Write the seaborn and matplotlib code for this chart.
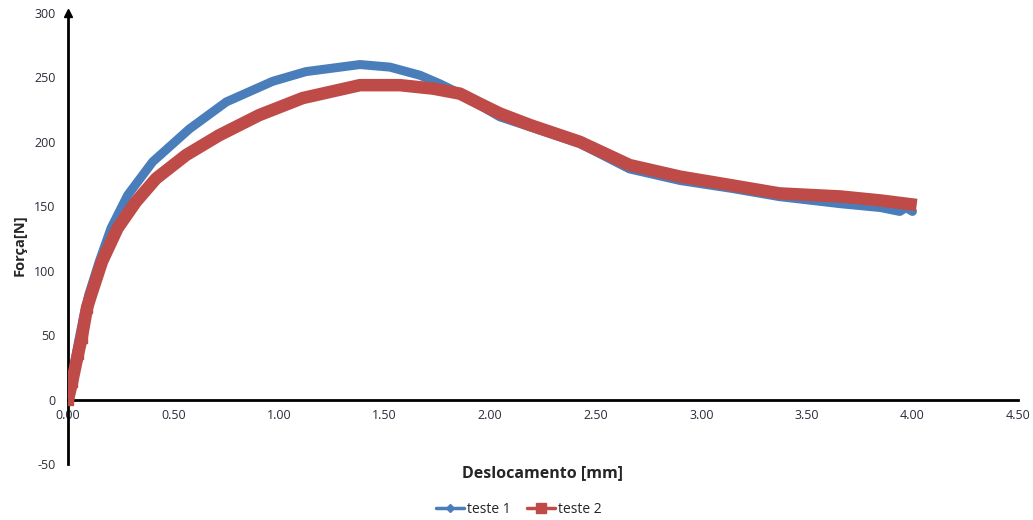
import numpy as np
import pandas as pd
import matplotlib
matplotlib.use("Agg")
import matplotlib.pyplot as plt
from matplotlib.lines import Line2D
from matplotlib.ticker import FormatStrFormatter
import seaborn as sns

sns.set_style("white")
plt.rcParams['font.family'] = ['Open Sans', 'DejaVu Sans']
plt.rcParams['axes.unicode_minus'] = False

# values
x_teste1 = [0, 0.02, 0.05, 0.075, 0.098, 0.148, 0.204, 0.283, 0.401, 0.575,
            0.75, 0.97, 1.127, 1.383, 1.525, 1.667, 1.762,
            1.857, 1.95, 2.046, 2.19, 2.425, 2.66, 2.9, 3.14, 3.37,
            3.66, 3.85, 3.94, 3.97, 4.0]
y_teste1 = [0, 18, 45, 65, 81, 107, 133, 158.7, 184.5, 210,
            231, 247, 254.5, 260, 258, 251.7, 245,
            237.4, 228.5, 219.4, 211.6, 198.7, 179, 170, 164, 157.5,
            152, 149, 146, 149, 146]

x_teste2 = [0, 0.02, 0.047, 0.065, 0.09, 0.109, 0.161, 0.235, 0.322, 0.417,
            0.559, 0.715, 0.905, 1.112, 1.383, 1.572, 1.73,
            1.857, 1.95, 2.046, 2.19, 2.425, 2.66, 2.9, 3.14, 3.37,
            3.66, 3.85, 4.02]
y_teste2 = [0, 14, 35, 48, 71, 81, 107, 133, 153.5, 171.5,
            189.7, 205, 220.7, 234, 244, 244, 241.3,
            237.4, 229.7, 222, 213, 200, 182, 173, 166.4, 160,
            157.6, 154.5, 151]

x_ticks = [0, 0.5, 1.0, 1.5, 2.0, 2.5, 3.0, 3.5, 4.0, 4.5]
y_ticks = [-50, 0, 50, 100, 150, 200, 250, 300]

blue = '#4A7EBB'
red = '#BE4B48'

df1 = pd.DataFrame({'x': x_teste1, 'y': y_teste1})
df2 = pd.DataFrame({'x': x_teste2, 'y': y_teste2})

fig = plt.figure(figsize=(10.33, 5.2), dpi=100)
ax = fig.add_axes([0.0658, 0.1077, 0.9197, 0.8673])

sns.lineplot(data=df1, x='x', y='y', sort=False, color=blue, lw=6.5,
             solid_capstyle='round', solid_joinstyle='round', ax=ax)
sns.lineplot(data=df2, x='x', y='y', sort=False, color=red, lw=9,
             solid_capstyle='butt', solid_joinstyle='round', ax=ax)
ax.plot(x_teste2[:5], y_teste2[:5], 's', color=red, ms=7, ls='none')

ax.set_xlim(0, 4.5)
ax.set_ylim(-50, 300)
ax.set_xticks(x_ticks)
ax.set_yticks(y_ticks)
ax.xaxis.set_major_formatter(FormatStrFormatter('%.2f'))

for s in ['top', 'right']:
    ax.spines[s].set_visible(False)
ax.spines['bottom'].set_position(('data', 0))
ax.spines['left'].set_position(('data', 0))
for s in ['bottom', 'left']:
    ax.spines[s].set_linewidth(2)
    ax.spines[s].set_color('black')
    ax.spines[s].set_zorder(1)

ax.tick_params(axis='both', direction='out', length=4, width=1.5,
               color='black', labelsize=9, labelcolor='#2b2b3b')
ax.tick_params(axis='x', pad=3)
ax.tick_params(axis='y', pad=5)

# arrow on top of y axis
ax.plot(0, 1, '^k', ms=6, transform=ax.get_xaxis_transform(), clip_on=False)

ax.set_xlabel('Deslocamento [mm]', fontsize=11.5, fontweight='bold')
ax.set_ylabel('Força[N]', fontsize=10.5, fontweight='bold')
ax.xaxis.set_label_coords(0.5, -0.003)
ax.yaxis.set_label_coords(-0.044, 0.486)

handles = [Line2D([], [], color=blue, lw=2.5, marker='D', ms=4),
           Line2D([], [], color=red, lw=2.5, marker='s', ms=7)]
fig.legend(handles, ['teste 1', 'teste 2'], loc='center',
           bbox_to_anchor=(0.502, 0.02), ncol=2, frameon=False,
           fontsize=10, handlelength=2.0, columnspacing=1.2, handletextpad=0.2)

fig.savefig('out.png', dpi=100)
